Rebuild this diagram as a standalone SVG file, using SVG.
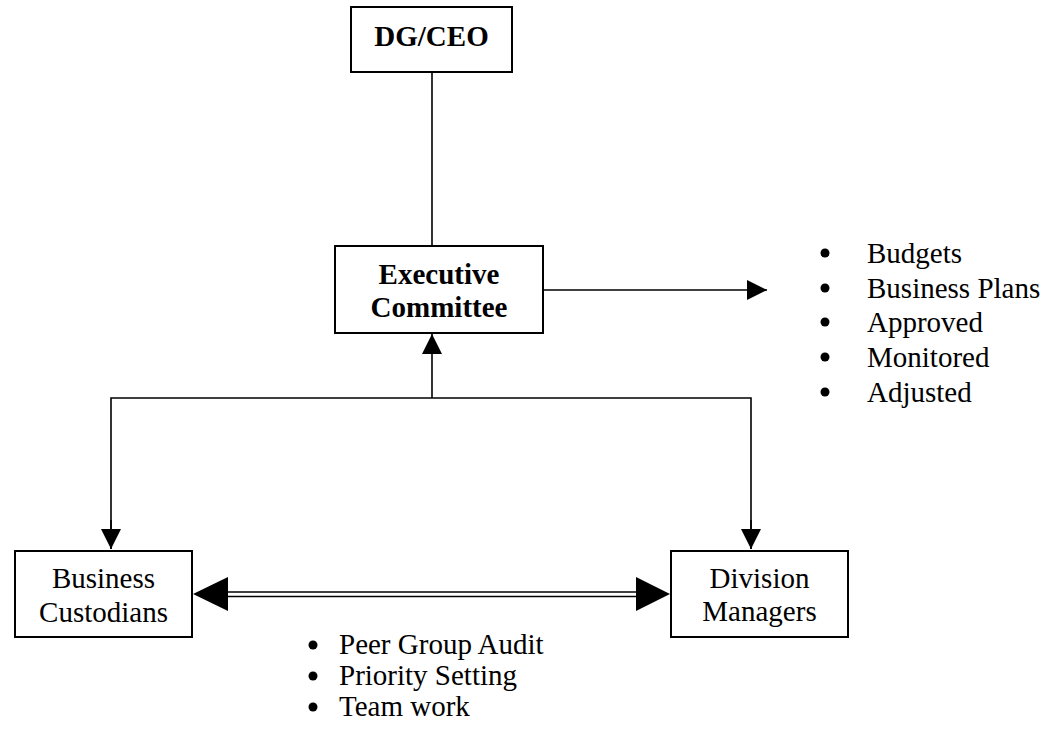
<svg xmlns="http://www.w3.org/2000/svg" width="1047" height="730" viewBox="0 0 1047 730">
<style>
.box{fill:#fff;stroke:#000;stroke-width:2}
.ln{fill:none;stroke:#000;stroke-width:1.6}
.t{font-family:"Liberation Serif","Times New Roman",serif;font-size:29px;fill:#000}
.b{font-weight:bold}
.mid{text-anchor:middle}
.dot{fill:#000}
</style>
<defs>
<marker id="ah" viewBox="0 0 20 20" refX="20" refY="10" markerWidth="20" markerHeight="20" markerUnits="userSpaceOnUse" orient="auto">
<path d="M0,0 L20,10 L0,20 Z" fill="#000"/>
</marker>
</defs>
<rect width="1047" height="730" fill="#fff"/>
<g id="connectors">
<line class="ln" x1="432" y1="72" x2="432" y2="246"/>
<line class="ln" x1="543" y1="290" x2="767" y2="290" marker-end="url(#ah)"/>
<line class="ln" x1="432" y1="398" x2="432" y2="334" marker-end="url(#ah)"/>
<polyline class="ln" points="111,549 111,398 751,398 751,549"/>
<line class="ln" x1="111" y1="520" x2="111" y2="549" marker-end="url(#ah)"/>
<line class="ln" x1="751" y1="520" x2="751" y2="549" marker-end="url(#ah)"/>
<line class="ln" x1="220" y1="592" x2="645" y2="592"/>
<line class="ln" x1="220" y1="596.5" x2="645" y2="596.5"/>
<path d="M193,594 L228,577 L228,611 Z" fill="#000"/>
<path d="M670,594 L636,577 L636,611 Z" fill="#000"/>
</g>
<g id="dgceo">
<rect class="box" x="351" y="7" width="161" height="65"/>
<text class="t b mid" x="431.5" y="46">DG/CEO</text>
</g>
<g id="exec">
<rect class="box" x="335" y="246" width="208" height="87"/>
<text class="t b mid" x="439" y="284">Executive</text>
<text class="t b mid" x="439" y="317">Committee</text>
</g>
<g id="custodians">
<rect class="box" x="15" y="551" width="177" height="86"/>
<text class="t mid" x="103.5" y="588">Business</text>
<text class="t mid" x="103.5" y="622">Custodians</text>
</g>
<g id="managers">
<rect class="box" x="671" y="551" width="177" height="86"/>
<text class="t mid" x="759.5" y="588">Division</text>
<text class="t mid" x="759.5" y="621">Managers</text>
</g>
<g id="outputs">
<circle class="dot" cx="825" cy="253" r="4.5"/>
<circle class="dot" cx="825" cy="288" r="4.5"/>
<circle class="dot" cx="825" cy="322" r="4.5"/>
<circle class="dot" cx="825" cy="357" r="4.5"/>
<circle class="dot" cx="825" cy="392" r="4.5"/>
<text class="t" x="867" y="263">Budgets</text>
<text class="t" x="867" y="298">Business Plans</text>
<text class="t" x="867" y="332">Approved</text>
<text class="t" x="867" y="367">Monitored</text>
<text class="t" x="867" y="402">Adjusted</text>
</g>
<g id="peer">
<circle class="dot" cx="313" cy="645" r="4.5"/>
<circle class="dot" cx="313" cy="676" r="4.5"/>
<circle class="dot" cx="313" cy="707" r="4.5"/>
<text class="t" x="339" y="654">Peer Group Audit</text>
<text class="t" x="339" y="685">Priority Setting</text>
<text class="t" x="339" y="716">Team work</text>
</g>
</svg>
